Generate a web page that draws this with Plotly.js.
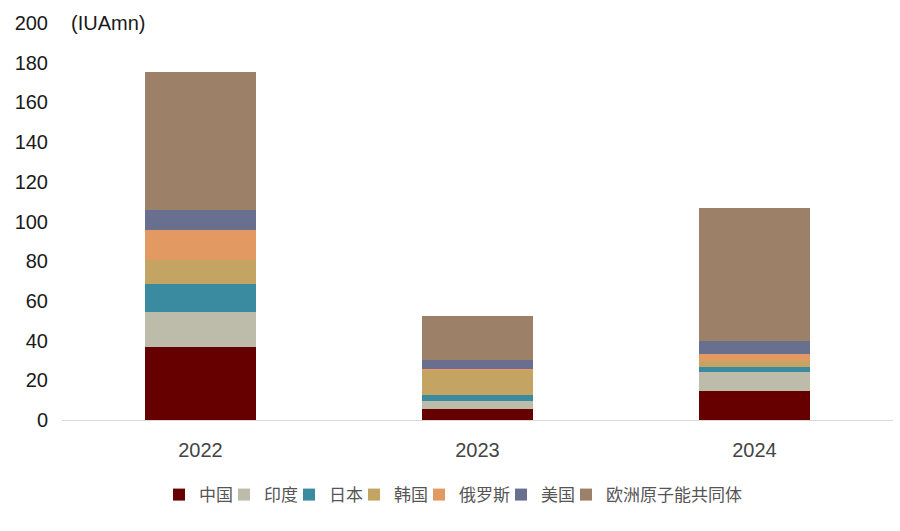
<!DOCTYPE html>
<html>
<head>
<meta charset="utf-8">
<script src="https://cdn.plot.ly/plotly-3.0.1.min.js"></script>
<style>
  body { margin: 0; background: #fff; }
  #chart { width: 900px; height: 531px; }
</style>
</head>
<body>
<div id="chart"></div>
<script>
// years on the x axis
var years = ['2022', '2023', '2024'];

// stacked series, bottom to top (IUAmn)
var china   = [36.8, 5.7, 14.6];
var india   = [17.6, 3.9, 9.7];
var japan   = [14.1, 3.0, 2.6];
var korea   = [12.1, 12.1, 3.0];
var russia  = [15.1, 1.0, 3.3];
var usa     = [10.1, 4.5, 6.8];
var euratom = [69.5, 22.2, 66.8];

var names  = ['中国', '印度', '日本', '韩国', '俄罗斯', '美国', '欧洲原子能共同体'];
var colors = ['#660000', '#bdbbaa', '#3b8ba0', '#c3a462', '#e39a62', '#69708f', '#9c8068'];
var series = [china, india, japan, korea, russia, usa, euratom];

// one small legend per series so the entries sit tight like the original
var legendLeft = [159, 224, 289, 354, 419, 501, 566];
var plotLeft = 62, plotWidth = 831;

var data = [];
for (var i = 0; i < series.length; i++) {
    data.push({
        type: 'bar',
        x: years,
        y: series[i],
        name: names[i],
        legend: i === 0 ? 'legend' : 'legend' + (i + 1),
        marker: { color: colors[i], line: { width: 0 } },
        hoverinfo: 'name+y'
    });
}

var layout = {
    width: 900,
    height: 531,
    barmode: 'stack',
    bargap: 0.6,
    paper_bgcolor: '#fff',
    plot_bgcolor: '#fff',
    margin: { l: 62, r: 7, t: 23, b: 111 },
    font: { family: 'Liberation Sans, Arial, sans-serif', color: '#222' },
    xaxis: {
        showgrid: false,
        showline: true,
        linecolor: '#d9d9d9',
        linewidth: 1,
        ticks: '',
        tickfont: { size: 20, color: '#444' },
        ticklabelstandoff: 12
    },
    yaxis: {
        range: [0, 200],
        dtick: 20,
        showgrid: false,
        zeroline: false,
        showline: false,
        ticks: '',
        tickfont: { size: 20, color: '#1a1a1a' },
        ticklabelstandoff: 13
    },
    showlegend: true,
    annotations: [{
        text: '(IUAmn)',
        xref: 'paper', yref: 'paper',
        x: 0.008, y: 1,
        xanchor: 'left', yanchor: 'middle',
        showarrow: false,
        font: { size: 20, color: '#1a1a1a' }
    }]
};

for (var j = 0; j < names.length; j++) {
    var key = j === 0 ? 'legend' : 'legend' + (j + 1);
    layout[key] = {
        orientation: 'h',
        x: (legendLeft[j] - plotLeft) / plotWidth,
        xanchor: 'left',
        y: -0.189,
        yanchor: 'middle',
        bgcolor: 'rgba(0,0,0,0)',
        borderwidth: 0,
        font: { family: 'Noto Sans CJK SC, sans-serif', size: 17, color: '#555' }
    };
}

Plotly.newPlot('chart', data, layout, { displayModeBar: false, staticPlot: true });
</script>
</body>
</html>
